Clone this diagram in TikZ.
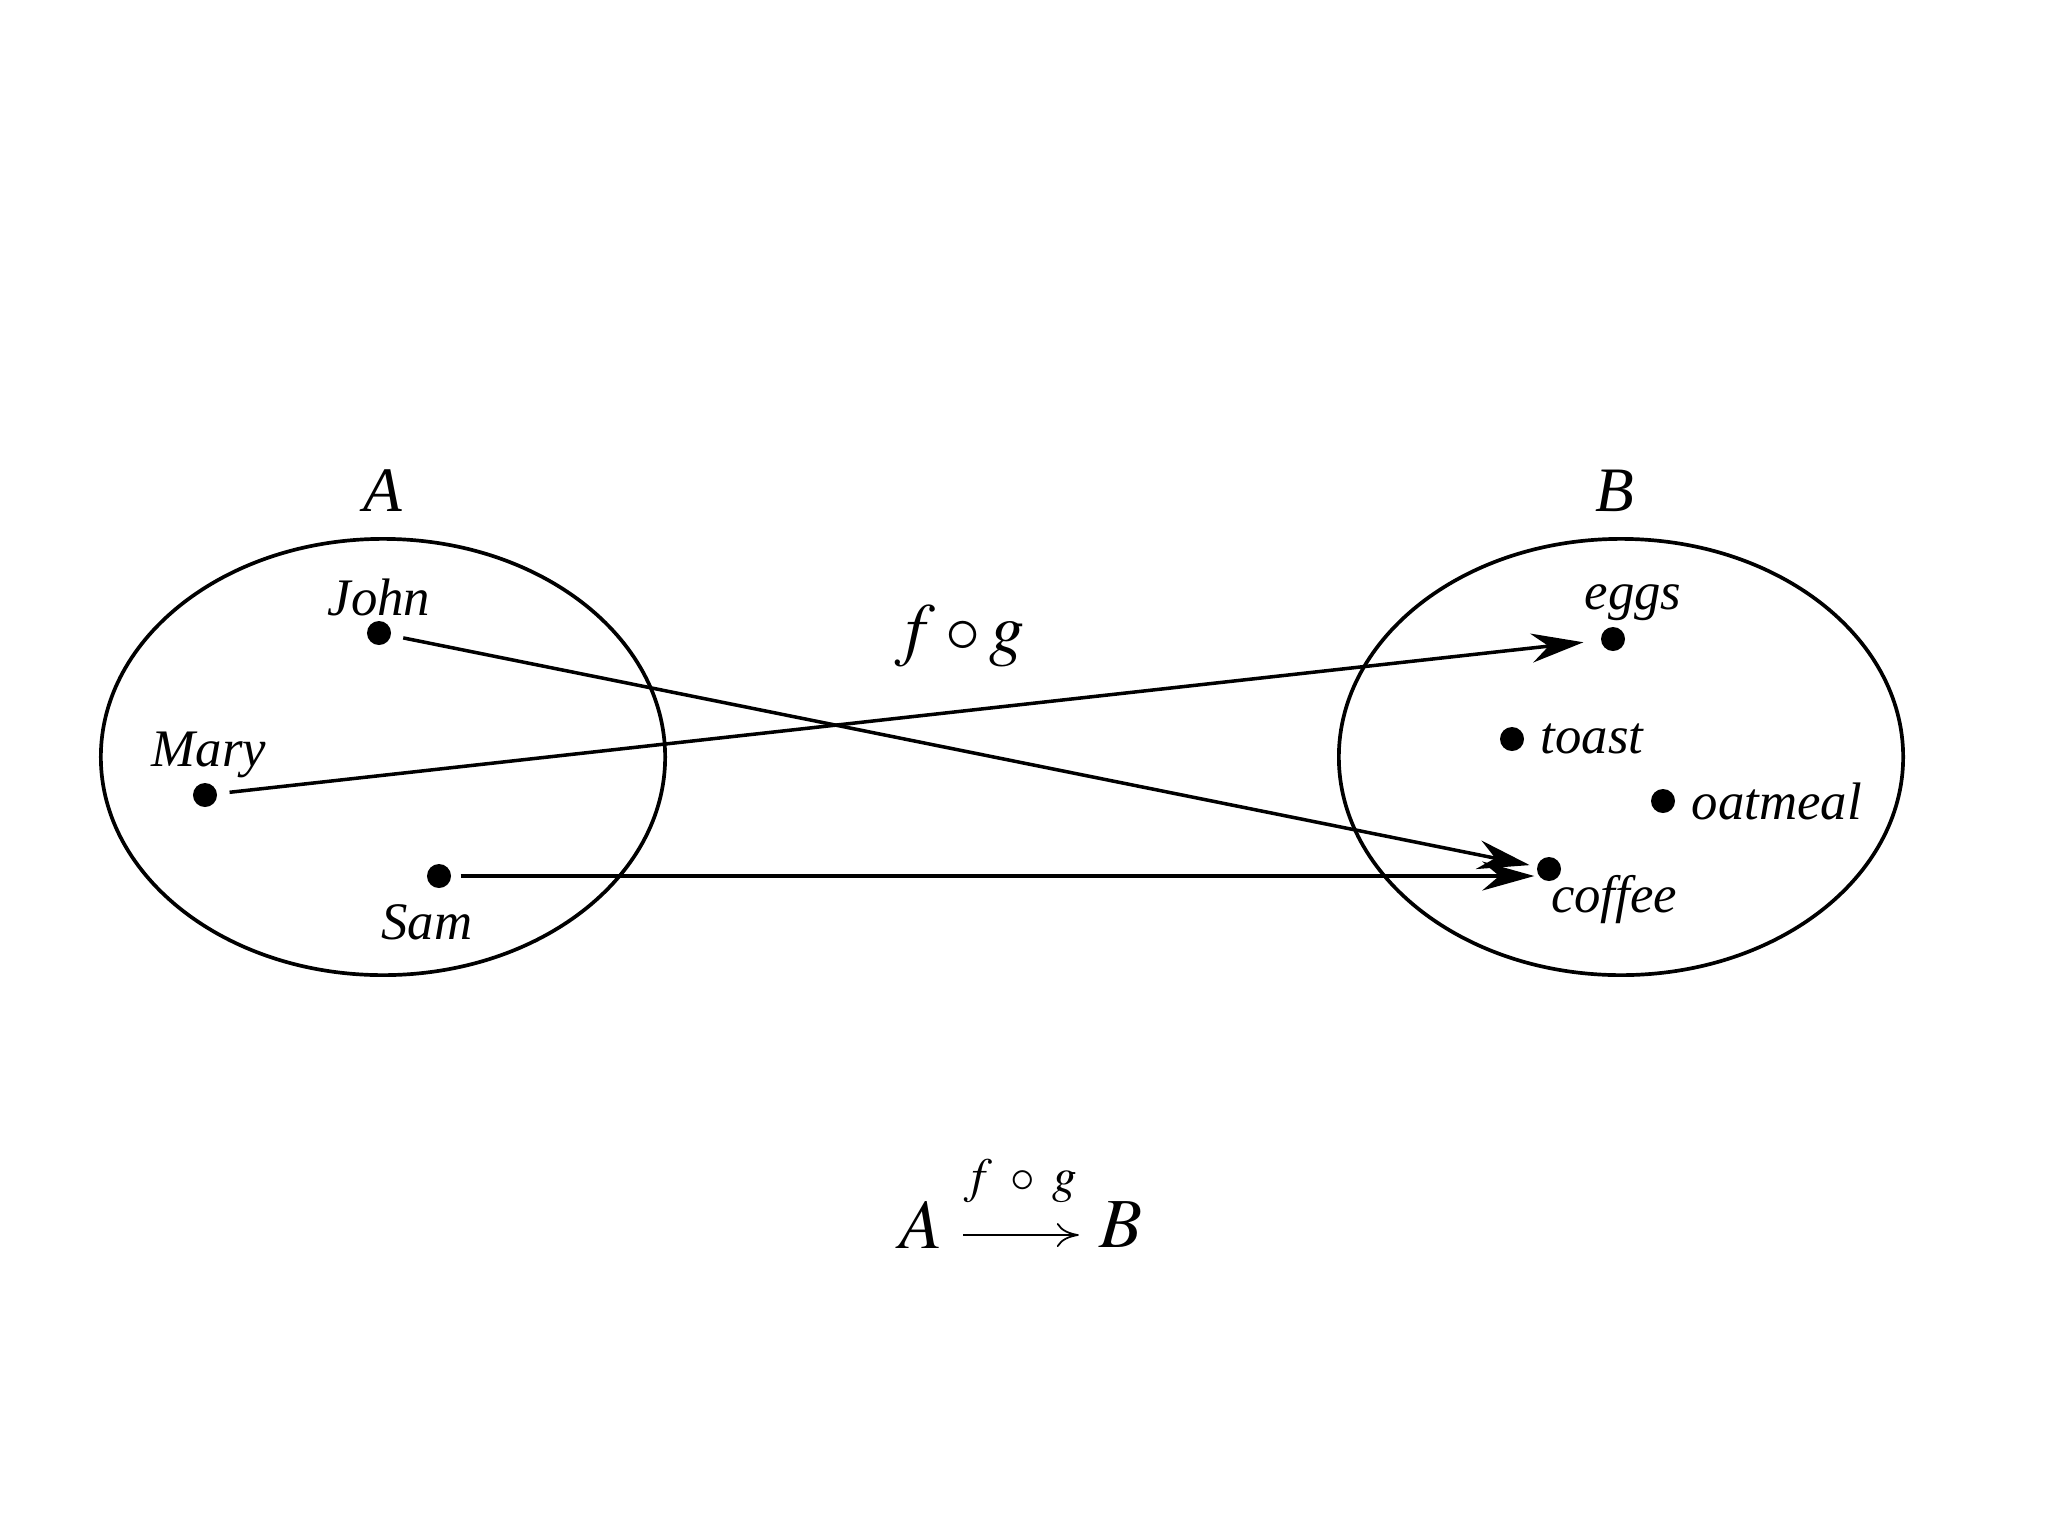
\documentclass[tikz,border=0pt]{standalone}
\usepackage{amsmath}
\usepackage{mathptmx}
\usepackage{fontspec}
\setmainfont{Liberation Serif}
\usepackage{tikz}
\usetikzlibrary{shapes.geometric, arrows.meta, positioning}

\begin{document}
\begin{tikzpicture}[
  x=0.01cm, y=-0.01cm,
  setshape/.style={ellipse, draw=black, line width=1.05pt, minimum width=5.64cm, minimum height=4.36cm},
  elem/.style={circle, fill=black, inner sep=0pt, minimum size=0.24cm},
  lbl/.style={font=\fontsize{15}{18}\selectfont\itshape, inner sep=1pt},
  setname/.style={font=\fontsize{18}{21}\selectfont\itshape},
  arr/.style={-{Stealth[length=5.2mm, width=2.9mm, inset=1.7mm]}, line width=1pt},
  thinarr/.style={-{To[length=2.2mm, width=2.4mm]}, line width=0.5pt}
]
\useasboundingbox (0,0) rectangle (2048,1536);
% the two sets
\node[setshape] (setA) at (383, 757) {};
\node[setshape] (setB) at (1621, 757) {};
\node[setname] (nameA) at (383, 491) {A};
\node[setname] (nameB) at (1615, 491) {B};
% elements of A
\node[elem] (john) at (379, 633) {};
\node[lbl] (johnlbl) at (379, 597) {John};
\node[elem] (mary) at (205, 795) {};
\node[lbl] (marylbl) at (209, 755) {Mary};
\node[elem] (sam) at (439, 876) {};
\node[lbl] (samlbl) at (427, 922) {Sam};
% elements of B
\node[elem] (eggs) at (1613, 639) {};
\node[lbl] (eggslbl) at (1633, 603) {eggs};
\node[elem] (toast) at (1512, 739) {};
\node[lbl, right=7pt of toast.center, anchor=west] (toastlbl) {toast};
\node[elem] (oatmeal) at (1663, 801) {};
\node[lbl, right=7pt of oatmeal.center, anchor=west] (oatmeallbl) {oatmeal};
\node[elem] (coffee) at (1549, 869) {};
\node[lbl] (coffeelbl) at (1614, 900) {coffee};
% the mapping
\node[font=\fontsize{20}{24}\selectfont] (maplbl) at (960, 636) {$f\circ g$};
\draw[arr, shorten <=0.12cm, shorten >=0.07cm] (john) -- (coffee);
\draw[arr, shorten <=0.12cm, shorten >=0.17cm] (mary) -- (eggs);
\draw[arr, shorten <=0.09cm, shorten >=0.02cm] (sam) -- (sam -| coffee.west);
% the same thing written as a formula
\node[font=\fontsize{20}{24}\selectfont, inner sep=0pt] (formA) at (921, 1225) {$A$};
\node[font=\fontsize{20}{24}\selectfont, inner sep=0pt] (formB) at (1121, 1225) {$B$};
\draw[thinarr, shorten <=0.2cm, shorten >=0.2cm] ([yshift=-0.1cm]formA.east) -- ([yshift=-0.1cm]formB.west)
  node[midway, above=0.2cm, font=\fontsize{14}{16}\selectfont] (formlbl) {$f\;\circ\;g$};
\end{tikzpicture}
\end{document}
